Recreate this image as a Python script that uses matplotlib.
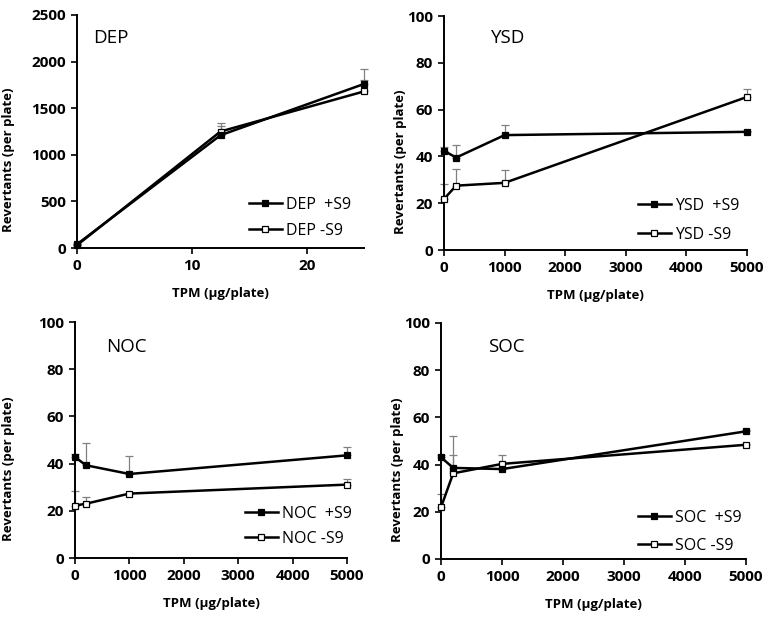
import matplotlib
matplotlib.use("Agg")
import matplotlib.pyplot as plt
import numpy as np

plt.rcParams['font.family'] = ['Open Sans', 'DejaVu Sans']

# ---- data ----
dep_x = [0, 12.5, 25]
dep_plus = [40, 1210, 1760]
dep_plus_err = [0, 100, 165]
dep_minus = [30, 1250, 1680]
dep_minus_err = [0, 92, 120]

dose_x = [0, 200, 1000, 5000]
ysd_plus = [42.4, 39.5, 49.1, 50.5]
ysd_plus_err = [1.5, 5.5, 4.5, 0.5]
ysd_minus = [21.8, 27.5, 28.7, 65.4]
ysd_minus_err = [6.5, 7.0, 5.7, 3.5]

noc_plus = [42.8, 39.3, 35.6, 43.5]
noc_plus_err = [1.2, 9.4, 7.5, 3.4]
noc_minus = [22.2, 23.0, 27.3, 31.1]
noc_minus_err = [6.0, 2.7, 0.0, 2.5]

soc_plus = [43.1, 38.6, 38.1, 54.1]
soc_plus_err = [1.1, 5.3, 0.5, 0.5]
soc_minus = [21.9, 36.3, 40.3, 48.4]
soc_minus_err = [5.5, 15.7, 3.6, 0.5]

dose_ticks = [0, 1000, 2000, 3000, 4000, 5000]
pct_ticks = [0, 20, 40, 60, 80, 100]

panels = [
    dict(name='DEP', x=dep_x, plus=dep_plus, pe=dep_plus_err, minus=dep_minus, me=dep_minus_err,
         xlim=(0, 25), xticks=[0, 10, 20], ylim=(0, 2500), yticks=[0, 500, 1000, 1500, 2000, 2500],
         pos=[77, 15, 364, 248], ylab_x=15, name_xy=(93, 43), leg_x=249, leg_row=(204, 230)),
    dict(name='YSD', x=dose_x, plus=ysd_plus, pe=ysd_plus_err, minus=ysd_minus, me=ysd_minus_err,
         xlim=(0, 5000), xticks=dose_ticks, ylim=(0, 100), yticks=pct_ticks,
         pos=[444, 16, 747, 250], ylab_x=407, name_xy=(491, 43), leg_x=638, leg_row=(205, 234)),
    dict(name='NOC', x=dose_x, plus=noc_plus, pe=noc_plus_err, minus=noc_minus, me=noc_minus_err,
         xlim=(0, 5000), xticks=dose_ticks, ylim=(0, 100), yticks=pct_ticks,
         pos=[75, 322, 347, 558], ylab_x=15, name_xy=(106, 352), leg_x=245, leg_row=(513, 538)),
    dict(name='SOC', x=dose_x, plus=soc_plus, pe=soc_plus_err, minus=soc_minus, me=soc_minus_err,
         xlim=(0, 5000), xticks=dose_ticks, ylim=(0, 100), yticks=pct_ticks,
         pos=[441, 323, 746, 559], ylab_x=404, name_xy=(488, 352), leg_x=638, leg_row=(517, 545)),
]

W, H = 774, 620
fig = plt.figure(figsize=(W / 100, H / 100), dpi=100)
LEG_FS = 11.5
fs_px = LEG_FS * 100 / 72.0

for p in panels:
    l, t, r, b = p['pos']
    aw, ah = r - l, b - t
    ax = fig.add_axes([l / W, 1 - b / H, aw / W, ah / H])
    x = p['x']
    for vals, err in [(p['plus'], p['pe']), (p['minus'], p['me'])]:
        ax.errorbar(x, vals, yerr=[np.zeros(len(err)), err], fmt='none', ecolor='#808080',
                    elinewidth=0.9, capsize=2.9, capthick=0.9, zorder=2, clip_on=False)
    ax.plot(x, p['plus'], color='black', lw=1.8, marker='s', ms=4.6, mfc='black', mec='black',
            mew=0.9, zorder=4, clip_on=False, label=f"{p['name']}  +S9")
    ax.plot(x, p['minus'], color='black', lw=1.8, marker='s', ms=4.6, mfc='white', mec='black',
            mew=0.9, zorder=3, clip_on=False, label=f"{p['name']} -S9")
    ax.set_xlim(*p['xlim'])
    ax.set_ylim(*p['ylim'])
    ax.set_xticks(p['xticks'])
    ax.set_yticks(p['yticks'])
    for s in ['top', 'right']:
        ax.spines[s].set_visible(False)
    for s in ['left', 'bottom']:
        ax.spines[s].set_linewidth(1.4)
    ax.tick_params(axis='both', direction='out', length=4, width=1.2, labelsize=11, pad=4)
    for lab in ax.get_xticklabels() + ax.get_yticklabels():
        lab.set_fontweight('bold')
    ax.set_xlabel('TPM (μg/plate)', fontsize=9.5, fontweight='bold', labelpad=10)
    ax.set_ylabel('Revertants (per plate)', fontsize=9.5, fontweight='bold')
    ax.yaxis.set_label_coords((p['ylab_x'] - l) / aw, 1 - (160 - 15) / 233)
    nx, ny = p['name_xy']
    ax.text((nx - l) / aw, 1 - (ny - t) / ah, p['name'], transform=ax.transAxes,
            fontsize=13.5, va='baseline', ha='left')
    r1, r2 = p['leg_row']
    spacing_px = r2 - r1
    lab_sp = (spacing_px - fs_px) / fs_px
    anchor_y = 1 - ((r2 + fs_px / 2 + 1) - t) / ah
    ax.legend(loc='lower left', frameon=False, fontsize=LEG_FS, handlelength=2.05,
              handletextpad=0.25, labelspacing=lab_sp, markerscale=0.85,
              borderpad=0, borderaxespad=0,
              bbox_to_anchor=((p['leg_x'] - l) / aw, anchor_y))

fig.savefig('out.png', dpi=100)
